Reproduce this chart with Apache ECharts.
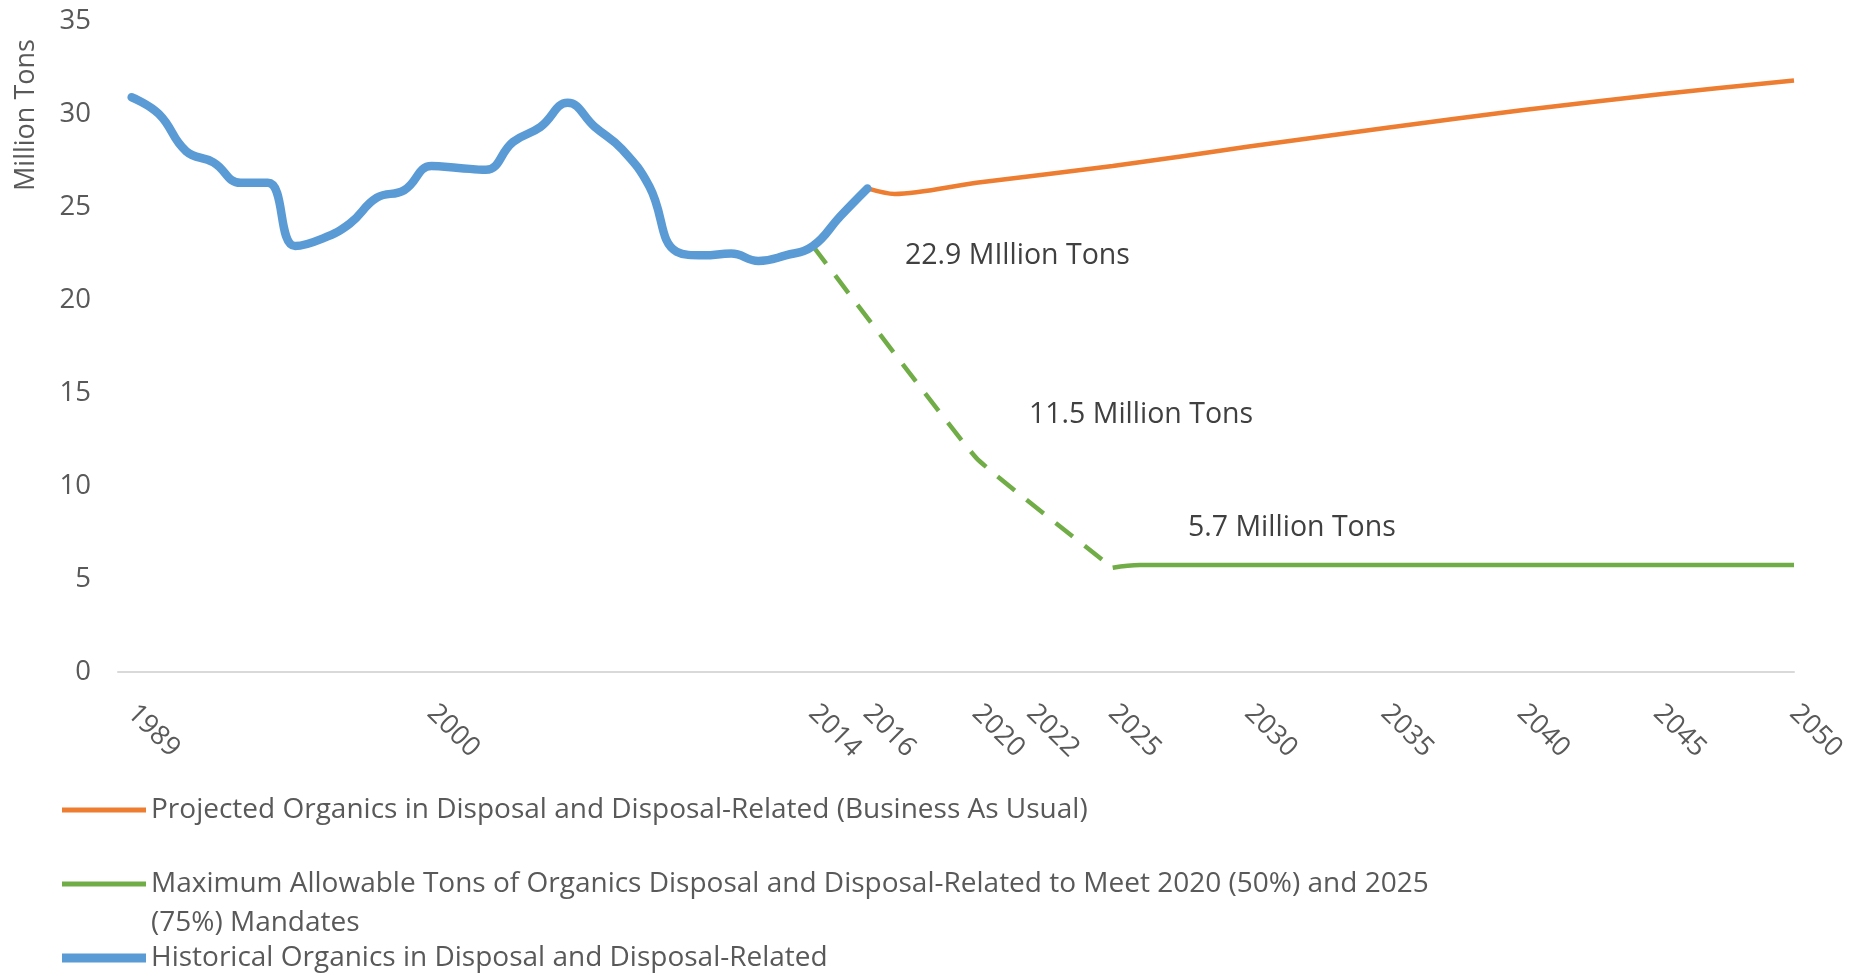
<!DOCTYPE html>
<html>
<head>
<meta charset="utf-8">
<script src="https://cdn.jsdelivr.net/npm/echarts@6/dist/echarts.min.js"></script>
<style>
html,body{margin:0;padding:0;background:#fff;}
#chart{width:1851px;height:975px;}
</style>
</head>
<body>
<div id="chart"></div>
<script>
// ---- data ----
const histYears = [1989,1990,1991,1992,1993,1994,1995,1996,1997,1998,1999,2000,2001,2002,2003,2004,2005,2006,2007,2008,2009,2010,2011,2012,2013,2014,2015,2016];
const histValues = [30.9,30.0,28.0,27.4,26.3,26.3,22.9,23.3,24.1,25.5,25.9,27.2,27.1,27.0,28.5,29.3,30.6,29.3,28.1,26.1,22.6,22.4,22.5,22.1,22.4,22.9,24.5,26.0];

const projYears = [2016,2017,2020,2025,2030,2035,2040,2045,2050];
const projValues = [26.0,25.7,26.3,27.2,28.25,29.25,30.2,31.05,31.8];

const mandateDashYears = [2014,2020,2025];
const mandateDashValues = [22.9,11.5,5.6];
const mandateYears = [2025,2026,2030,2035,2040,2045,2050];
const mandateValues = [5.6,5.75,5.75,5.75,5.75,5.75,5.75];

const xTickLabels = [1989,2000,2014,2016,2020,2022,2025,2030,2035,2040,2045,2050];

const nameProj = 'Projected Organics in Disposal and Disposal-Related (Business As Usual)';
const nameMand = 'Maximum Allowable Tons of Organics Disposal and Disposal-Related to Meet 2020 (50%) and 2025 (75%) Mandates';
const nameHist = 'Historical Organics in Disposal and Disposal-Related';

const notes = ['22.9 MIllion Tons', '11.5 Million Tons', '5.7 Million Tons'];

function pairs(xs, ys){ return xs.map((x,i)=>[x, ys[i]]); }

const FONT = '"Open Sans", "Noto Sans", sans-serif';
const TXT = '#595959';
const LEG = {fontSize: 28, color: TXT, fontFamily: FONT, lineHeight: 39};

const chart = echarts.init(document.getElementById('chart'), null, {renderer:'canvas'});

const legendBase = {
  orient: 'vertical', left: 62, padding: 0, itemWidth: 84, itemGap: 0,
  icon: 'rect'
};

chart.setOption({
  animation: false,
  backgroundColor: '#ffffff',
  textStyle: {fontFamily: FONT},
  grid: {left: 118, right: 57, top: 21, bottom: 303},
  xAxis: {
    type: 'value', min: 1988.5, max: 2050,
    axisLine: {show: true, lineStyle: {color: '#D9D9D9', width: 2}},
    axisTick: {show: false},
    splitLine: {show: false},
    axisLabel: {
      customValues: xTickLabels,
      rotate: -45, margin: 37,
      fontSize: 27, color: TXT, fontFamily: FONT,
      formatter: v => String(v)
    }
  },
  yAxis: {
    type: 'value', min: 0, max: 35, interval: 5,
    axisLine: {show: false}, axisTick: {show: false}, splitLine: {show: false},
    axisLabel: {fontSize: 27.5, color: TXT, fontFamily: FONT, margin: 27}
  },
  legend: [
    Object.assign({}, legendBase, {
      top: 790.5, itemHeight: 5, data: [nameProj], textStyle: LEG
    }),
    Object.assign({}, legendBase, {
      top: 825.5, itemHeight: 5, data: [nameMand],
      formatter: n => { const k = n.indexOf(' (75%)'); return '\u00a0\n' + n.slice(0, k) + '\n' + n.slice(k + 1); },
      textStyle: LEG
    }),
    Object.assign({}, legendBase, {
      top: 938.5, itemHeight: 9, data: [nameHist], textStyle: LEG
    })
  ],
  series: [
    {
      name: nameProj, type: 'line', data: pairs(projYears, projValues),
      smooth: 0.3, symbol: 'none', color: '#ED7D31',
      lineStyle: {width: 4.5, color: '#ED7D31'}, z: 2
    },
    {
      name: nameMand, type: 'line', data: pairs(mandateYears, mandateValues),
      smooth: 0.4, symbol: 'none', color: '#70AD47',
      lineStyle: {width: 4.5, color: '#70AD47'}, z: 2
    },
    {
      name: nameMand, type: 'line', data: pairs(mandateDashYears, mandateDashValues),
      smooth: 0.1, symbol: 'none', color: '#70AD47',
      lineStyle: {width: 4.5, color: '#70AD47', type: [22, 15]}, z: 2
    },
    {
      name: nameHist, type: 'line', data: pairs(histYears, histValues),
      smooth: 0.45, symbol: 'none', color: '#5B9BD5',
      lineStyle: {width: 8.5, color: '#5B9BD5', cap: 'round', join: 'round'}, z: 3
    }
  ],
  graphic: [
    {type: 'text', x: 26, y: 115, rotation: Math.PI/2,
     style: {text: 'Million Tons', font: '27px ' + FONT, fill: TXT, align: 'center', verticalAlign: 'middle'}},
    {type: 'text', x: 905, y: 256, style: {text: notes[0], font: '28.5px ' + FONT, fill: '#404040', verticalAlign: 'middle'}},
    {type: 'text', x: 1029, y: 415, style: {text: notes[1], font: '28.5px ' + FONT, fill: '#404040', verticalAlign: 'middle'}},
    {type: 'text', x: 1188, y: 528, style: {text: notes[2], font: '28.5px ' + FONT, fill: '#404040', verticalAlign: 'middle'}}
  ]
});
</script>
</body>
</html>
